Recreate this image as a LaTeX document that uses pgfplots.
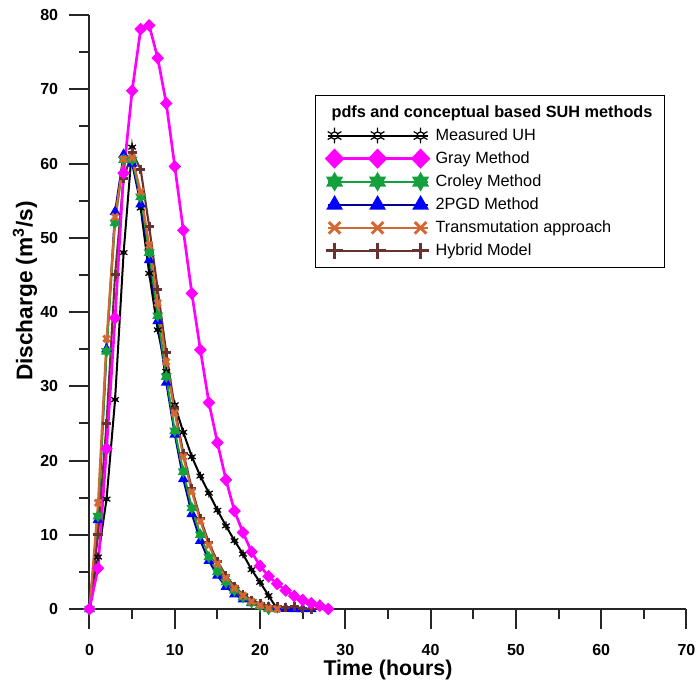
\documentclass[border=0pt]{standalone}
\usepackage{fontspec}
\setmainfont{Liberation Sans}
\usepackage{pgfplots}
\pgfplotsset{compat=1.18}

\definecolor{graym}{RGB}{255,0,255}
\definecolor{croley}{RGB}{20,160,60}
\definecolor{pgdfill}{RGB}{0,0,255}
\definecolor{pgdline}{RGB}{0,0,150}
\definecolor{transm}{RGB}{210,105,50}
\definecolor{hybrid}{RGB}{105,50,50}

% filled six-pointed star (Croley)
\pgfdeclareplotmark{hexstar}{%
  \pgfpathmoveto{\pgfpointpolar{90}{\pgfplotmarksize}}%
  \pgfpathlineto{\pgfpointpolar{210}{\pgfplotmarksize}}%
  \pgfpathlineto{\pgfpointpolar{330}{\pgfplotmarksize}}%
  \pgfpathclose
  \pgfpathmoveto{\pgfpointpolar{270}{\pgfplotmarksize}}%
  \pgfpathlineto{\pgfpointpolar{30}{\pgfplotmarksize}}%
  \pgfpathlineto{\pgfpointpolar{150}{\pgfplotmarksize}}%
  \pgfpathclose
  \pgfusepathqfillstroke}
% circle with spokes (Measured UH)
\pgfdeclareplotmark{sun}{%
  \pgfpathcircle{\pgfpointorigin}{0.45\pgfplotmarksize}%
  \pgfpathmoveto{\pgfpointpolar{90}{0.45\pgfplotmarksize}}\pgfpathlineto{\pgfpointpolar{90}{\pgfplotmarksize}}%
  \pgfpathmoveto{\pgfpointpolar{270}{0.45\pgfplotmarksize}}\pgfpathlineto{\pgfpointpolar{270}{\pgfplotmarksize}}%
  \pgfpathmoveto{\pgfpointpolar{30}{0.45\pgfplotmarksize}}\pgfpathlineto{\pgfpointpolar{30}{\pgfplotmarksize}}%
  \pgfpathmoveto{\pgfpointpolar{150}{0.45\pgfplotmarksize}}\pgfpathlineto{\pgfpointpolar{150}{\pgfplotmarksize}}%
  \pgfpathmoveto{\pgfpointpolar{210}{0.45\pgfplotmarksize}}\pgfpathlineto{\pgfpointpolar{210}{\pgfplotmarksize}}%
  \pgfpathmoveto{\pgfpointpolar{330}{0.45\pgfplotmarksize}}\pgfpathlineto{\pgfpointpolar{330}{\pgfplotmarksize}}%
  \pgfusepathqstroke}

\pgfplotsset{
    measured/.style={black, line width=1.5pt, mark=sun, mark size=3.3pt, mark options={line width=0.9pt}},
    graymeth/.style={graym, line width=2pt, mark=diamond*, mark size=3.4pt, mark options={xscale=1.3, fill=graym}},
    croleymeth/.style={croley, line width=1.5pt, mark=hexstar, mark size=3.3pt, mark options={fill=croley}},
    pgdmeth/.style={pgdline, line width=1.5pt, mark=triangle*, mark size=3.2pt, mark options={fill=pgdfill, draw=pgdfill}},
    transmeth/.style={transm, line width=1.6pt, mark=x, mark size=3.4pt, mark options={line width=2.2pt}},
    hybridmeth/.style={hybrid, line width=1.6pt, mark=+, mark size=3.4pt, mark options={line width=2.2pt}},
}

\begin{document}
\begin{tikzpicture}
\begin{axis}[
    scale only axis,
    width=447.75pt,
    height=445.5pt,
    xmin=0, xmax=70,
    ymin=0, ymax=80,
    axis lines=left,
    axis line style={-, line width=1.5pt, black!85},
    clip=false,
    xtick={0,10,...,70},
    ytick={0,10,...,80},
    minor xtick={5,15,...,65},
    minor ytick={5,15,...,75},
    tick align=outside,
    major tick length=15pt,
    minor tick length=7.5pt,
    tick style={line width=1.5pt, black!85},
    /pgf/number format/assume math mode=true,
    tick label style={font=\fontsize{12}{14}\selectfont\bfseries},
    xticklabel style={yshift=-8pt},
    yticklabel style={xshift=-5pt},
    xlabel={Time (hours)},
    ylabel={Discharge (m\textsuperscript{3}/s)},
    label style={font=\fontsize{16}{18}\selectfont\bfseries},
    ylabel style={font=\fontsize{17}{19}\selectfont\bfseries},
    xlabel style={at={(axis description cs:0.5,-0.1025)}, anchor=center},
    ylabel style={at={(axis description cs:-0.108,0.535)}, anchor=center},
    legend style={
        at={(0.3777,0.8653)}, anchor=north west,
        draw=black, line width=0.9pt,
        fill=white,
        font=\fontsize{12.2}{14}\selectfont,
        inner xsep=8pt, inner ysep=4pt,
        row sep=0pt, column sep=5pt,
        nodes={inner xsep=0pt, inner ysep=0pt, text height=12.3pt, text depth=5pt},
    },
    legend cell align=left,
    legend image code/.code={%
        \draw[#1, mark=none] (0pt,0pt) -- (75pt,0pt);
        \draw[#1, only marks, every mark/.append style={scale=1.8}]
            plot coordinates {(5.25pt,0pt) (37.5pt,0pt) (69.75pt,0pt)};
    },
]

% curves, drawn back to front
\addplot[measured, forget plot]
coordinates {(0,0) (1,7) (2,14.8) (3,28.2) (4,48.0) (5,62.2) (6,54.0) (7,45.2)
(8,37.6) (9,32.0) (10,27.5) (11,23.8) (12,20.5) (13,17.9) (14,15.6) (15,13.3)
(16,11.2) (17,9.2) (18,7.4) (19,5.3) (20,3.6) (21,1.8) (22,0)};

\addplot[pgdmeth, forget plot]
coordinates {(0,0) (1,12.0) (2,35.0) (3,53.5) (4,61.2) (5,60.0) (6,54.5) (7,47.0)
(8,38.8) (9,30.5) (10,23.5) (11,17.5) (12,12.8) (13,9.2) (14,6.5) (15,4.5)
(16,3.0) (17,2.0) (18,1.3) (19,0.8) (20,0.4) (21,0.2) (22,0.1) (23,0.05)
(24,0) (25,0) (26,0)};

\addplot[croleymeth, forget plot]
coordinates {(0,0) (1,12.5) (2,34.7) (3,52.0) (4,60.5) (5,60.5) (6,55.5) (7,48.0)
(8,39.5) (9,31.3) (10,24.0) (11,18.5) (12,13.6) (13,10.0) (14,7.0) (15,5.0)
(16,3.6) (17,2.5) (18,1.6) (19,0.9) (20,0.4) (21,0)};

\addplot[hybridmeth, forget plot]
coordinates {(0,0) (1,10.0) (2,25.0) (3,45.0) (4,58.0) (5,61.5) (6,59.2) (7,51.5)
(8,43.0) (9,34.5) (10,27.0) (11,21.0) (12,16.2) (13,12.2) (14,8.9) (15,6.4)
(16,4.5) (17,3.0) (18,2.0) (19,1.2) (20,0.7) (21,0.4) (22,0.3) (23,0.2)
(24,0.3) (25,0.1) (26,0)};

\addplot[transmeth, forget plot]
coordinates {(0,0) (1,14.3) (2,36.4) (3,52.8) (4,60.6) (5,60.8) (6,56.2) (7,49.0)
(8,41.2) (9,33.3) (10,26.4) (11,20.5) (12,15.8) (13,11.8) (14,8.6) (15,6.1)
(16,4.2) (17,2.8) (18,1.8) (19,1.0) (20,0.5) (21,0.1) (22,0)};

\addplot[graymeth, forget plot]
coordinates {(0,0) (1,5.5) (2,21.6) (3,39.2) (4,58.7) (5,69.8) (6,78.1) (7,78.6)
(8,74.2) (9,68.1) (10,59.6) (11,51.0) (12,42.5) (13,34.9) (14,27.8) (15,22.4)
(16,17.4) (17,13.2) (18,10.3) (19,7.7) (20,5.8) (21,4.4) (22,3.4) (23,2.5)
(24,1.75) (25,1.2) (26,0.77) (27,0.45) (28,0)};

% legend in the original order
\addlegendimage{empty legend}
\addlegendentry{\makebox[163.5pt][l]{\hspace*{-78pt}\rlap{\bfseries pdfs and conceptual based SUH methods}}}
\addlegendimage{measured}
\addlegendentry{Measured UH}
\addlegendimage{graymeth}
\addlegendentry{Gray Method}
\addlegendimage{croleymeth}
\addlegendentry{Croley Method}
\addlegendimage{pgdmeth}
\addlegendentry{2PGD Method}
\addlegendimage{transmeth}
\addlegendentry{Transmutation approach}
\addlegendimage{hybridmeth}
\addlegendentry{Hybrid Model}
\end{axis}
\pgfresetboundingbox
\path[use as bounding box] (-67.125pt,-55.5pt) rectangle (454.875pt,456.75pt);
\end{tikzpicture}
\end{document}
